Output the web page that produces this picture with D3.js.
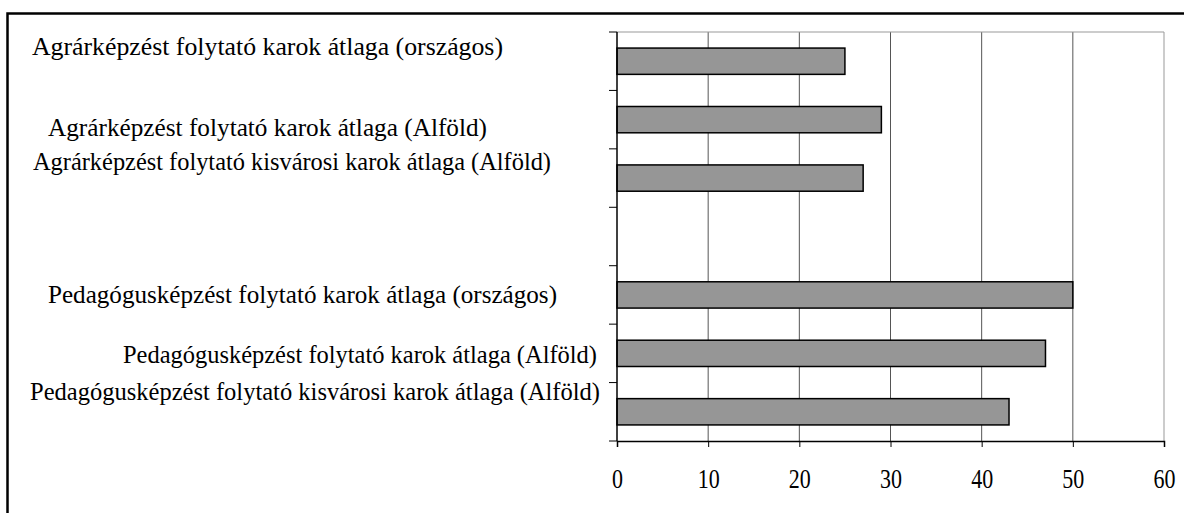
<!DOCTYPE html>
<html lang="hu">
<head>
    <meta charset="UTF-8">
    <title>Karok átlaga</title>
    <script src="https://d3js.org/d3.v7.min.js"></script>
    <style>
        body { margin: 0; background: #fff; }
        svg text { font-family: "Times New Roman", "Liberation Serif", Times, serif; fill: #000; }
    </style>
</head>
<body>
    <svg id="chart" width="1184" height="513"></svg>

    <script>
        // categories, top to bottom (the empty one is the gap between the two groups)
        const categories = [
            "Agrárképzést folytató karok átlaga (országos)",
            "Agrárképzést folytató karok átlaga (Alföld)",
            "Agrárképzést folytató kisvárosi karok átlaga (Alföld)",
            "",
            "Pedagógusképzést folytató karok átlaga (országos)",
            "Pedagógusképzést folytató karok átlaga (Alföld)",
            "Pedagógusképzést folytató kisvárosi karok átlaga (Alföld)"
        ];
        const values = [25, 29, 27, null, 50, 47, 43];
        const xTicks = [0, 10, 20, 30, 40, 50, 60];

        // label boxes were placed by hand in the original: left / right edge and baseline shift
        const labelLayout = [
            { x0: 32, x1: 503, dy: -6 },
            { x0: 48, x1: 487, dy: 16 },
            { x0: 33, x1: 551, dy: -8 },
            null,
            { x0: 48, x1: 557, dy: 8 },
            { x0: 123, x1: 597, dy: 10 },
            { x0: 30, x1: 600, dy: -12 }
        ];

        const serif = "'Times New Roman', 'Liberation Serif', Times, serif";
        const svg = d3.select("#chart").attr("font-family", serif);
        const plotLeft = 617, plotRight = 1164, plotTop = 32, plotBottom = 441;

        const x = d3.scaleLinear().domain([0, 60]).range([plotLeft, plotRight]);
        const y = d3.scaleBand().domain(d3.range(categories.length)).range([plotTop, plotBottom])
            .paddingInner(0.55).paddingOuter(0.275);
        const yTicks = d3.scaleBand().domain(d3.range(categories.length)).range([plotTop, plotBottom]);

        // outer frame
        svg.append("rect")
            .attr("x", 7.5).attr("y", 13.5)
            .attr("width", 1250).attr("height", 600)
            .attr("fill", "none").attr("stroke", "#000").attr("stroke-width", 2.5);

        // vertical gridlines
        svg.append("g").selectAll("line")
            .data(xTicks.slice(1))
            .join("line")
            .attr("x1", d => x(d)).attr("x2", d => x(d))
            .attr("y1", plotTop).attr("y2", plotBottom)
            .attr("stroke", d => d === 60 ? "#999" : "#555").attr("stroke-width", 1);

        // top of plot area
        svg.append("line")
            .attr("x1", plotLeft).attr("x2", plotRight).attr("y1", plotTop).attr("y2", plotTop)
            .attr("stroke", "#999");

        // bars
        svg.append("g").selectAll("rect")
            .data(values.map((v, i) => ({ v, i })).filter(d => d.v !== null))
            .join("rect")
            .attr("x", x(0))
            .attr("y", d => y(d.i))
            .attr("width", d => x(d.v) - x(0))
            .attr("height", y.bandwidth())
            .attr("fill", "#969696")
            .attr("stroke", "#000")
            .attr("stroke-width", 1.5);

        // y axis line with category ticks
        svg.append("line")
            .attr("x1", plotLeft).attr("x2", plotLeft).attr("y1", plotTop).attr("y2", plotBottom)
            .attr("stroke", "#000").attr("stroke-width", 1.5);
        svg.append("g").selectAll("line")
            .data(d3.range(categories.length + 1))
            .join("line")
            .attr("x1", plotLeft - 8).attr("x2", plotLeft)
            .attr("y1", d => d < categories.length ? yTicks(d) : plotBottom)
            .attr("y2", d => d < categories.length ? yTicks(d) : plotBottom)
            .attr("stroke", "#000").attr("stroke-width", 1);

        // x axis (the original glyphs are tall and narrow, so squeeze them a bit)
        const xAxis = svg.append("g")
            .attr("transform", "translate(0," + plotBottom + ")")
            .call(d3.axisBottom(x).tickValues(xTicks).tickSize(6).tickPadding(22));
        xAxis.attr("font-family", serif).attr("font-size", 27);
        xAxis.select(".domain").attr("stroke", "#000").attr("stroke-width", 1.5);
        xAxis.selectAll(".tick line").attr("stroke", "#000");
        xAxis.selectAll("text")
            .attr("fill", "#000")
            .attr("textLength", d => 11 * String(d).length)
            .attr("lengthAdjust", "spacingAndGlyphs");

        // category labels
        svg.append("g").selectAll("text")
            .data(categories.map((c, i) => ({ c, i, l: labelLayout[i] })).filter(d => d.l))
            .join("text")
            .attr("x", d => d.l.x0)
            .attr("y", d => yTicks(d.i) + yTicks.bandwidth() / 2 + d.l.dy)
            .attr("font-size", 25)
            .attr("textLength", d => d.l.x1 - d.l.x0)
            .attr("lengthAdjust", "spacingAndGlyphs")
            .text(d => d.c);
    </script>
</body>
</html>
